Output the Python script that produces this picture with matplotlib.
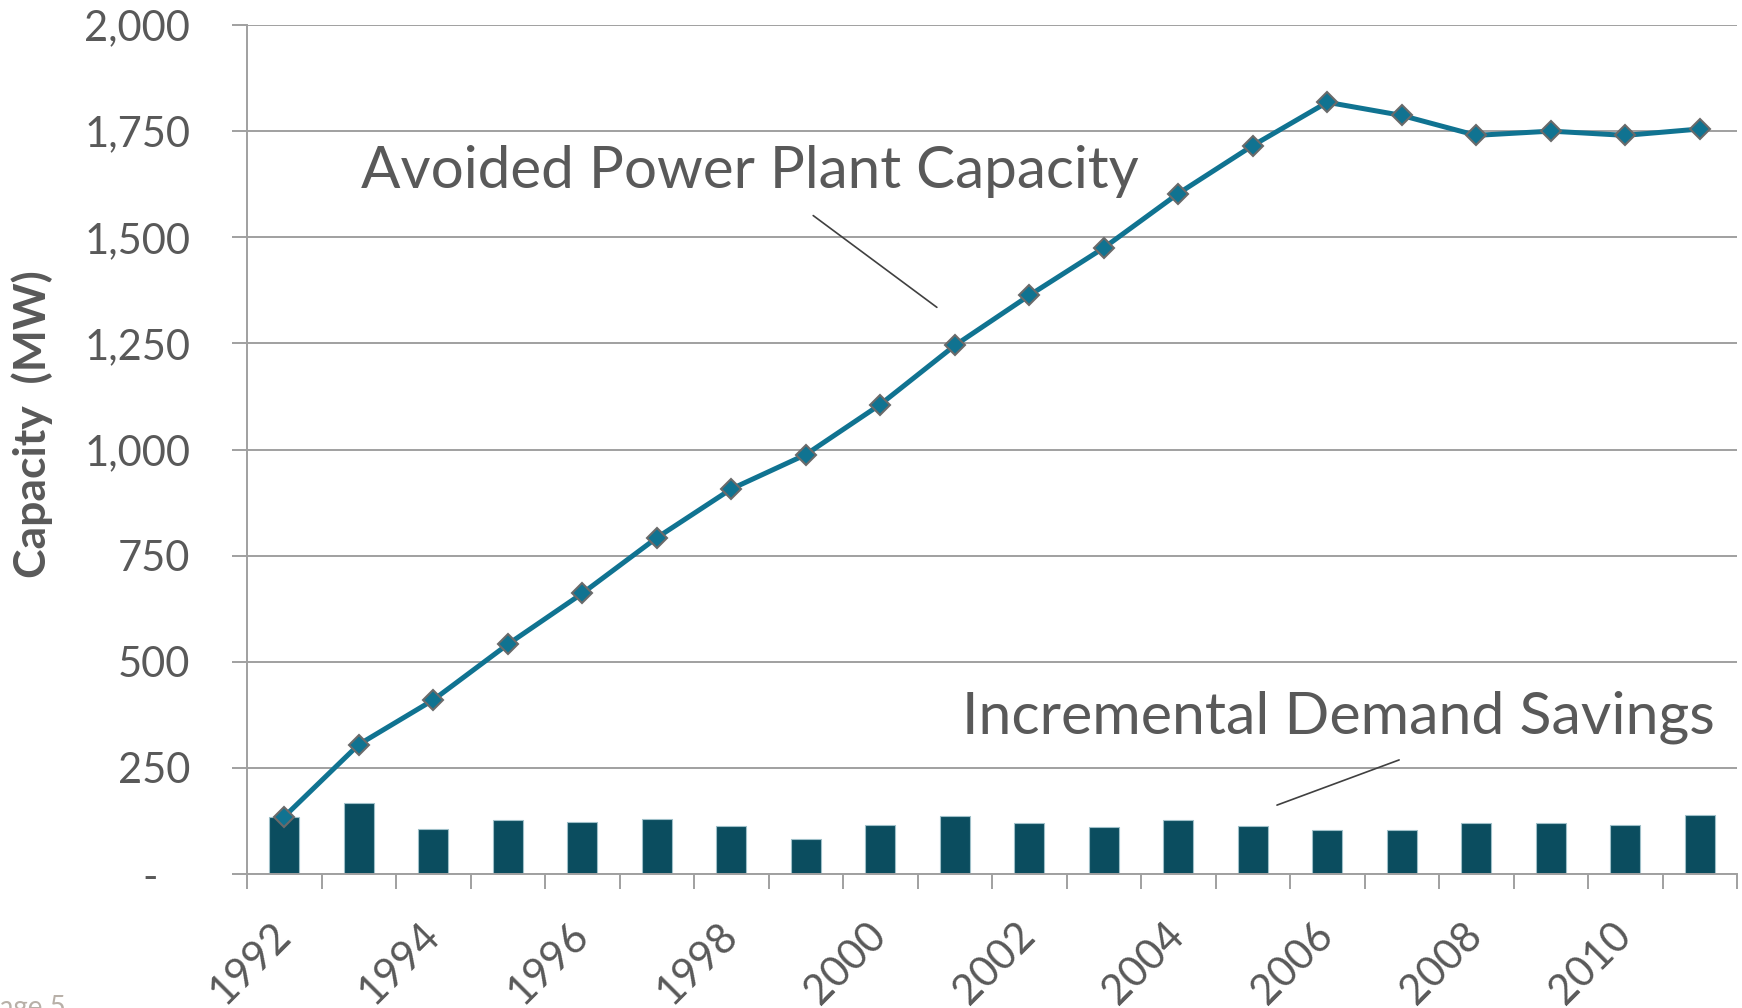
import matplotlib
matplotlib.use("Agg")
import matplotlib.pyplot as plt
import numpy as np

years = list(range(1992, 2012))
avoided_capacity = [135, 305, 410, 541, 661, 792, 907, 988, 1106, 1245,
                    1363, 1475, 1603, 1716, 1818, 1787, 1740, 1750, 1740, 1755]
incremental_savings = [134, 167, 107, 127, 122, 130, 114, 83, 116, 137,
                       120, 111, 128, 112, 103, 104, 120, 119, 115, 138]
y_ticks = [0, 250, 500, 750, 1000, 1250, 1500, 1750, 2000]
y_tick_labels = ["-   ", "250", "500", "750", "1,000", "1,250", "1,500", "1,750", "2,000"]
x_tick_labels = [str(y) if (y - 1992) % 2 == 0 else "" for y in years]

TEXT = "#595959"
GRID = "#a0a0a0"
BAR = "#0b4d5f"
LINE = "#107391"

plt.rcParams['font.family'] = ['Lato', 'DejaVu Sans']

fig = plt.figure(figsize=(17.42, 10.08), dpi=100)
ax = fig.add_axes([247/1742, 1-874/1008, (1737-247)/1742, (874-25)/1008])

x = np.arange(len(years))
ax.bar(x, incremental_savings, width=0.4, color=BAR, edgecolor="#9fc0c9",
       linewidth=0.8, zorder=2)
ax.plot(x, avoided_capacity, color=LINE, lw=3.6, marker='D', markersize=10,
        markerfacecolor=LINE, markeredgecolor="#6a6a6a", markeredgewidth=1.5,
        zorder=3)

ax.set_xlim(-0.5, len(years) - 0.5)
ax.set_ylim(0, 2000)
ax.set_yticks(y_ticks)
ax.set_yticklabels(y_tick_labels)
ax.yaxis.grid(True, color=GRID, lw=1.4, zorder=0)
ax.set_axisbelow(True)

ax.set_xticks(np.arange(len(years) + 1) - 0.5)
ax.set_xticklabels([])
ax.set_xticks(x, minor=True)
ax.set_xticklabels(x_tick_labels, minor=True, rotation=45, ha='right',
                   va='center', rotation_mode='anchor')
ax.tick_params(axis='x', which='major', direction='out', length=11,
               width=1.4, color=GRID)
ax.tick_params(axis='x', which='minor', length=0, pad=40,
               labelsize=30, labelcolor=TEXT)
ax.tick_params(axis='y', direction='out', length=11, width=1.4, color=GRID,
               pad=30, labelsize=30, labelcolor=TEXT)

for s in ['top', 'right']:
    ax.spines[s].set_visible(False)
for s in ['left', 'bottom']:
    ax.spines[s].set_color(GRID)
    ax.spines[s].set_linewidth(1.4)

fig.text(32/1742, 1-424/1008, "Capacity  (MW)", rotation=90, ha='center',
         va='center', fontsize=32, fontweight='bold', color=TEXT)

fig.text(361/1742, 1-188/1008, "Avoided Power Plant Capacity", ha='left',
         va='baseline', fontsize=42, color=TEXT)
fig.text(962/1742, 1-733/1008, "Incremental Demand Savings", ha='left',
         va='baseline', fontsize=42.5, color=TEXT)

ax.annotate("", xy=(8.79, 1331), xytext=(7.07, 1555),
            arrowprops=dict(arrowstyle='-', color="#404040", lw=1.2))
ax.annotate("", xy=(13.29, 160), xytext=(15.0, 271),
            arrowprops=dict(arrowstyle='-', color="#404040", lw=1.2))

fig.text(66/1742, 1-1016/1008, "Page 5", ha='right', va='baseline',
         fontsize=20, color="#b8b0a8")

fig.savefig("out.png", dpi=100)
